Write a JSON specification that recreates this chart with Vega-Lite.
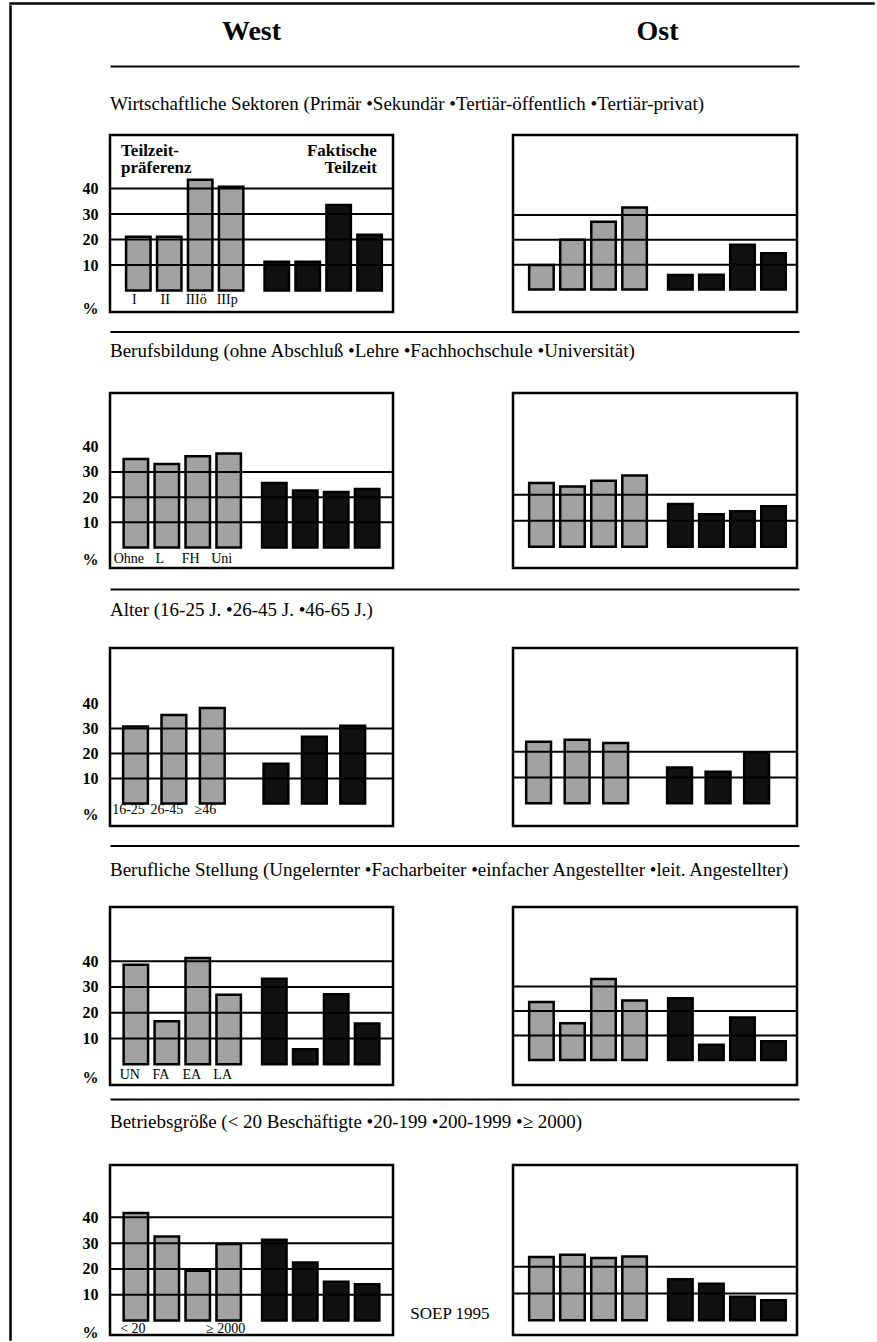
{
  "$schema": "https://vega.github.io/schema/vega-lite/v6.json",
  "background": "white",
  "padding": {"left": 9, "top": 2, "right": 0, "bottom": 0},
  "config": {
    "view": {"stroke": "black", "strokeWidth": 2.5},
    "font": "Liberation Serif",
    "text": {"font": "Liberation Serif", "color": "black"}
  },
  "datasets": {
    "bars": [
      {"p":1,"r":"W","g":"P","c":"a","v":21.1,"l":"I"},
      {"p":1,"r":"W","g":"P","c":"b","v":21.1,"l":"II"},
      {"p":1,"r":"W","g":"P","c":"c","v":43.5,"l":"IIIö"},
      {"p":1,"r":"W","g":"P","c":"d","v":40.7,"l":"IIIp"},
      {"p":1,"r":"W","g":"F","c":"a","v":11.3},
      {"p":1,"r":"W","g":"F","c":"b","v":11.3},
      {"p":1,"r":"W","g":"F","c":"c","v":33.6},
      {"p":1,"r":"W","g":"F","c":"d","v":21.9},
      {"p":1,"r":"O","g":"P","c":"a","v":9.9},
      {"p":1,"r":"O","g":"P","c":"b","v":20},
      {"p":1,"r":"O","g":"P","c":"c","v":27.3},
      {"p":1,"r":"O","g":"P","c":"d","v":33},
      {"p":1,"r":"O","g":"F","c":"a","v":5.9},
      {"p":1,"r":"O","g":"F","c":"b","v":6},
      {"p":1,"r":"O","g":"F","c":"c","v":18},
      {"p":1,"r":"O","g":"F","c":"d","v":14.6},
      {"p":2,"r":"W","g":"P","c":"a","v":35.1,"l":"Ohne"},
      {"p":2,"r":"W","g":"P","c":"b","v":33.1,"l":"L"},
      {"p":2,"r":"W","g":"P","c":"c","v":36.2,"l":"FH"},
      {"p":2,"r":"W","g":"P","c":"d","v":37.3,"l":"Uni"},
      {"p":2,"r":"W","g":"F","c":"a","v":25.6},
      {"p":2,"r":"W","g":"F","c":"b","v":22.6},
      {"p":2,"r":"W","g":"F","c":"c","v":22},
      {"p":2,"r":"W","g":"F","c":"d","v":23.2},
      {"p":2,"r":"O","g":"P","c":"a","v":24.5},
      {"p":2,"r":"O","g":"P","c":"b","v":23.1},
      {"p":2,"r":"O","g":"P","c":"c","v":25.4},
      {"p":2,"r":"O","g":"P","c":"d","v":27.4},
      {"p":2,"r":"O","g":"F","c":"a","v":16.4},
      {"p":2,"r":"O","g":"F","c":"b","v":12.5},
      {"p":2,"r":"O","g":"F","c":"c","v":13.6},
      {"p":2,"r":"O","g":"F","c":"d","v":15.5},
      {"p":3,"r":"W","g":"P","c":"a","v":30.8,"l":"16-25"},
      {"p":3,"r":"W","g":"P","c":"b","v":35.4,"l":"26-45"},
      {"p":3,"r":"W","g":"P","c":"c","v":38.2,"l":"≥46"},
      {"p":3,"r":"W","g":"F","c":"a","v":15.9},
      {"p":3,"r":"W","g":"F","c":"b","v":26.7},
      {"p":3,"r":"W","g":"F","c":"c","v":31.1},
      {"p":3,"r":"O","g":"P","c":"a","v":23.9},
      {"p":3,"r":"O","g":"P","c":"b","v":24.7},
      {"p":3,"r":"O","g":"P","c":"c","v":23.4},
      {"p":3,"r":"O","g":"F","c":"a","v":13.9},
      {"p":3,"r":"O","g":"F","c":"b","v":12.2},
      {"p":3,"r":"O","g":"F","c":"c","v":19.7},
      {"p":4,"r":"W","g":"P","c":"a","v":38.6,"l":"UN"},
      {"p":4,"r":"W","g":"P","c":"b","v":16.7,"l":"FA"},
      {"p":4,"r":"W","g":"P","c":"c","v":41.2,"l":"EA"},
      {"p":4,"r":"W","g":"P","c":"d","v":27,"l":"LA"},
      {"p":4,"r":"W","g":"F","c":"a","v":33.2},
      {"p":4,"r":"W","g":"F","c":"b","v":5.9},
      {"p":4,"r":"W","g":"F","c":"c","v":27.2},
      {"p":4,"r":"W","g":"F","c":"d","v":15.8},
      {"p":4,"r":"O","g":"P","c":"a","v":23.6},
      {"p":4,"r":"O","g":"P","c":"b","v":15},
      {"p":4,"r":"O","g":"P","c":"c","v":33},
      {"p":4,"r":"O","g":"P","c":"d","v":24.2},
      {"p":4,"r":"O","g":"F","c":"a","v":25.2},
      {"p":4,"r":"O","g":"F","c":"b","v":6.2},
      {"p":4,"r":"O","g":"F","c":"c","v":17.3},
      {"p":4,"r":"O","g":"F","c":"d","v":7.6},
      {"p":5,"r":"W","g":"P","c":"a","v":41.7,"l":"< 20"},
      {"p":5,"r":"W","g":"P","c":"b","v":32.6},
      {"p":5,"r":"W","g":"P","c":"c","v":19.3},
      {"p":5,"r":"W","g":"P","c":"d","v":29.7,"l":"≥ 2000"},
      {"p":5,"r":"W","g":"F","c":"a","v":31.3},
      {"p":5,"r":"W","g":"F","c":"b","v":22.5},
      {"p":5,"r":"W","g":"F","c":"c","v":15},
      {"p":5,"r":"W","g":"F","c":"d","v":14.1},
      {"p":5,"r":"O","g":"P","c":"a","v":23.7},
      {"p":5,"r":"O","g":"P","c":"b","v":24.5},
      {"p":5,"r":"O","g":"P","c":"c","v":23.3},
      {"p":5,"r":"O","g":"P","c":"d","v":23.9},
      {"p":5,"r":"O","g":"F","c":"a","v":15.4},
      {"p":5,"r":"O","g":"F","c":"b","v":13.7},
      {"p":5,"r":"O","g":"F","c":"c","v":8.8},
      {"p":5,"r":"O","g":"F","c":"d","v":7.5}
    ],
    "grid": [
      {"p":1,"r":"W","v":10},{"p":1,"r":"W","v":20},{"p":1,"r":"W","v":30},{"p":1,"r":"W","v":40},
      {"p":1,"r":"O","v":10},{"p":1,"r":"O","v":20},{"p":1,"r":"O","v":30},
      {"p":2,"r":"W","v":10},{"p":2,"r":"W","v":20},{"p":2,"r":"W","v":30},
      {"p":2,"r":"O","v":10},{"p":2,"r":"O","v":20},
      {"p":3,"r":"W","v":10},{"p":3,"r":"W","v":20},{"p":3,"r":"W","v":30},
      {"p":3,"r":"O","v":10},{"p":3,"r":"O","v":20},
      {"p":4,"r":"W","v":10},{"p":4,"r":"W","v":20},{"p":4,"r":"W","v":30},{"p":4,"r":"W","v":40},
      {"p":4,"r":"O","v":10},{"p":4,"r":"O","v":20},{"p":4,"r":"O","v":30},
      {"p":5,"r":"W","v":10},{"p":5,"r":"W","v":20},{"p":5,"r":"W","v":30},{"p":5,"r":"W","v":40},
      {"p":5,"r":"O","v":10},{"p":5,"r":"O","v":20}
    ],
    "notes": [
      {"g":"P","t":["Teilzeit-","präferenz"]},
      {"g":"F","t":["Faktische","Teilzeit"]}
    ]
  },
  "spacing": 0,
  "resolve": {"scale": {"x": "independent", "y": "independent", "xOffset": "independent"}},
  "vconcat": [
    {"width": 864, "height": 1, "view": {"stroke": "black", "strokeWidth": 1.5}, "data": {"values": []}, "mark": {"type": "text"}, "encoding": {"text": {"value": ""}}},
    {
      "spacing": 68,
      "resolve": {"scale": {"x": "independent", "y": "independent", "xOffset": "independent"}},
      "hconcat": [
        {"width": 1, "height": 1334, "view": {"stroke": "black", "strokeWidth": 1.5}, "data": {"values": []}, "mark": {"type": "text"}, "encoding": {"text": {"value": ""}}},
        {
          "spacing": 12,
          "resolve": {"scale": {"x": "independent", "y": "independent", "xOffset": "independent"}},
          "vconcat": [
            {
              "width": 689, "height": 45, "view": {"stroke": null},
              "data": {"values": [{"r": "West"}, {"r": "Ost"}]},
              "mark": {"type": "text", "fontSize": 28, "fontWeight": "bold", "baseline": "middle", "dy": 3},
              "encoding": {
                "x": {"field": "r", "type": "nominal", "sort": ["West", "Ost"], "scale": {"type": "band", "paddingInner": 0.303, "paddingOuter": 0}, "axis": null},
                "y": {"datum": 0, "type": "quantitative", "scale": {"domain": [-1, 1]}, "axis": {"orient": "left", "values": [0], "ticks": true, "tickSize": 28, "tickColor": "white", "labels": false, "domain": false, "grid": false, "title": null}},
                "text": {"field": "r"}
              }
            },
            {
              "width": 689, "height": 58, "view": {"stroke": null},
              "data": {"values": [{"t": "Wirtschaftliche Sektoren (Primär •Sekundär •Tertiär-öffentlich •Tertiär-privat)"}]},
              "mark": {"type": "text", "align": "left", "baseline": "middle", "fontSize": 19, "dy": 12},
              "encoding": {
                "text": {"field": "t"},
                "x": {"datum": 0, "type": "quantitative", "scale": {"domain": [0, 1]}, "axis": {"orient": "top", "offset": -3, "domain": true, "domainColor": "black", "domainWidth": 2, "ticks": false, "labels": false, "grid": false, "title": null}},
                "y": {"datum": 0, "type": "quantitative", "scale": {"domain": [-1, 1]}, "axis": {"orient": "left", "values": [0], "ticks": true, "tickSize": 28, "tickColor": "white", "labels": false, "domain": false, "grid": false, "title": null}}
              }
            },
            {
              "spacing": 120, "bounds": "flush",
              "resolve": {"scale": {"x": "independent", "y": "independent", "xOffset": "independent"}},
              "hconcat": [
                {
                  "width": 283, "height": 177,
                  "layer": [
                    {"data": {"name": "bars"}, "transform": [{"filter": "datum.p == 1 && datum.r == 'W'"}],
                     "mark": {"type": "bar", "stroke": "black", "strokeWidth": 2.5},
                     "encoding": {
                       "x": {"field": "g", "type": "nominal", "sort": ["P", "F"], "scale": {"type": "band", "paddingInner": 0.153, "paddingOuter": 0.0985, "align": 0.59}, "axis": null},
                       "xOffset": {"field": "c", "type": "nominal", "sort": ["a", "b", "c", "d"], "scale": {"type": "band", "paddingInner": 0.21, "paddingOuter": 0}},
                       "y": {"field": "v", "type": "quantitative", "scale": {"domain": [-8.4, 61], "nice": false}, "axis": {"values": [-7.1, 10, 20, 30, 40], "labelExpr": "datum.value < 0 ? '%' : datum.label", "ticks": false, "domain": false, "grid": false, "title": null, "labelFont": "Liberation Serif", "labelFontSize": 16, "labelFontWeight": "bold", "labelColor": "black", "labelPadding": 12, "labelFlush": false, "labelOverlap": false}},
                       "y2": {"datum": 0},
                       "fill": {"field": "g", "type": "nominal", "scale": {"domain": ["P", "F"], "range": ["#a2a2a2", "#111111"]}, "legend": null}
                     }},
                    {"data": {"name": "grid"}, "transform": [{"filter": "datum.p == 1 && datum.r == 'W'"}],
                     "mark": {"type": "rule", "color": "black", "strokeWidth": 2},
                     "encoding": {"y": {"field": "v", "type": "quantitative"}}},
                    {"data": {"name": "bars"}, "transform": [{"filter": "datum.p == 1 && datum.r == 'W' && isValid(datum.l)"}],
                     "mark": {"type": "text", "fontSize": 14, "baseline": "middle", "dx": -4},
                     "encoding": {
                       "x": {"field": "g", "type": "nominal", "sort": ["P", "F"], "scale": {"type": "band", "paddingInner": 0.153, "paddingOuter": 0.0985, "align": 0.59}},
                       "xOffset": {"field": "c", "type": "nominal", "sort": ["a", "b", "c", "d"], "scale": {"type": "band", "paddingInner": 0.21, "paddingOuter": 0}},
                       "y": {"datum": -3.7},
                       "text": {"field": "l"}
                     }},
                    {"data": {"name": "notes"}, "transform": [{"filter": "datum.g == 'P'"}],
                     "mark": {"type": "text", "fontSize": 17, "fontWeight": "bold", "align": "left", "baseline": "top", "lineHeight": 17, "dx": -5},
                     "encoding": {
                       "x": {"field": "g", "type": "nominal", "sort": ["P", "F"], "bandPosition": 0, "scale": {"type": "band", "paddingInner": 0.153, "paddingOuter": 0.0985, "align": 0.59}},
                       "y": {"datum": 58},
                       "text": {"field": "t"}
                     }},
                    {"data": {"name": "notes"}, "transform": [{"filter": "datum.g == 'F'"}],
                     "mark": {"type": "text", "fontSize": 17, "fontWeight": "bold", "align": "right", "baseline": "top", "lineHeight": 17, "dx": -5},
                     "encoding": {
                       "x": {"field": "g", "type": "nominal", "sort": ["P", "F"], "bandPosition": 1, "scale": {"type": "band", "paddingInner": 0.153, "paddingOuter": 0.0985, "align": 0.59}},
                       "y": {"datum": 58},
                       "text": {"field": "t"}
                     }}
                  ]
                },
                {
                  "width": 284, "height": 177,
                  "layer": [
                    {"data": {"name": "bars"}, "transform": [{"filter": "datum.p == 1 && datum.r == 'O'"}],
                     "mark": {"type": "bar", "stroke": "black", "strokeWidth": 2.5},
                     "encoding": {
                       "x": {"field": "g", "type": "nominal", "sort": ["P", "F"], "scale": {"type": "band", "paddingInner": 0.153, "paddingOuter": 0.0985, "align": 0.59}, "axis": null},
                       "xOffset": {"field": "c", "type": "nominal", "sort": ["a", "b", "c", "d"], "scale": {"type": "band", "paddingInner": 0.21, "paddingOuter": 0}},
                       "y": {"field": "v", "type": "quantitative", "scale": {"domain": [-9.0, 62.1], "nice": false}, "axis": {"labels": false, "ticks": false, "domain": false, "grid": false, "title": null}},
                       "y2": {"datum": 0},
                       "fill": {"field": "g", "type": "nominal", "scale": {"domain": ["P", "F"], "range": ["#a2a2a2", "#111111"]}, "legend": null}
                     }},
                    {"data": {"name": "grid"}, "transform": [{"filter": "datum.p == 1 && datum.r == 'O'"}],
                     "mark": {"type": "rule", "color": "black", "strokeWidth": 2},
                     "encoding": {"y": {"field": "v", "type": "quantitative"}}}
                  ]
                }
              ]
            },
            {
              "width": 689, "height": 49, "view": {"stroke": null},
              "data": {"values": [{"t": "Berufsbildung (ohne Abschluß •Lehre •Fachhochschule •Universität)"}]},
              "mark": {"type": "text", "align": "left", "baseline": "middle", "fontSize": 19, "dy": -4},
              "encoding": {
                "text": {"field": "t"},
                "x": {"datum": 0, "type": "quantitative", "scale": {"domain": [0, 1]}, "axis": {"orient": "top", "offset": -1.5, "domain": true, "domainColor": "black", "domainWidth": 2, "ticks": false, "labels": false, "grid": false, "title": null}},
                "y": {"datum": 0, "type": "quantitative", "scale": {"domain": [-1, 1]}, "axis": {"orient": "left", "values": [0], "ticks": true, "tickSize": 28, "tickColor": "white", "labels": false, "domain": false, "grid": false, "title": null}}
              }
            },
            {
              "spacing": 120, "bounds": "flush",
              "resolve": {"scale": {"x": "independent", "y": "independent", "xOffset": "independent"}},
              "hconcat": [
                {
                  "width": 283, "height": 175,
                  "layer": [
                    {"data": {"name": "bars"}, "transform": [{"filter": "datum.p == 2 && datum.r == 'W'"}],
                     "mark": {"type": "bar", "stroke": "black", "strokeWidth": 2.5},
                     "encoding": {
                       "x": {"field": "g", "type": "nominal", "sort": ["P", "F"], "scale": {"type": "band", "paddingInner": 0.153, "paddingOuter": 0.0985, "align": 0.5}, "axis": null},
                       "xOffset": {"field": "c", "type": "nominal", "sort": ["a", "b", "c", "d"], "scale": {"type": "band", "paddingInner": 0.21, "paddingOuter": 0}},
                       "y": {"field": "v", "type": "quantitative", "scale": {"domain": [-8.1, 61.3], "nice": false}, "axis": {"values": [-4.6, 10, 20, 30, 40], "labelExpr": "datum.value < 0 ? '%' : datum.label", "ticks": false, "domain": false, "grid": false, "title": null, "labelFont": "Liberation Serif", "labelFontSize": 16, "labelFontWeight": "bold", "labelColor": "black", "labelPadding": 12, "labelFlush": false, "labelOverlap": false}},
                       "y2": {"datum": 0},
                       "fill": {"field": "g", "type": "nominal", "scale": {"domain": ["P", "F"], "range": ["#a2a2a2", "#111111"]}, "legend": null}
                     }},
                    {"data": {"name": "grid"}, "transform": [{"filter": "datum.p == 2 && datum.r == 'W'"}],
                     "mark": {"type": "rule", "color": "black", "strokeWidth": 2},
                     "encoding": {"y": {"field": "v", "type": "quantitative"}}},
                    {"data": {"name": "bars"}, "transform": [{"filter": "datum.p == 2 && datum.r == 'W' && isValid(datum.l)"}],
                     "mark": {"type": "text", "fontSize": 14, "baseline": "middle", "dx": -7},
                     "encoding": {
                       "x": {"field": "g", "type": "nominal", "sort": ["P", "F"], "scale": {"type": "band", "paddingInner": 0.153, "paddingOuter": 0.0985, "align": 0.5}},
                       "xOffset": {"field": "c", "type": "nominal", "sort": ["a", "b", "c", "d"], "scale": {"type": "band", "paddingInner": 0.21, "paddingOuter": 0}},
                       "y": {"datum": -4.5},
                       "text": {"field": "l"}
                     }}
                  ]
                },
                {
                  "width": 284, "height": 175,
                  "layer": [
                    {"data": {"name": "bars"}, "transform": [{"filter": "datum.p == 2 && datum.r == 'O'"}],
                     "mark": {"type": "bar", "stroke": "black", "strokeWidth": 2.5},
                     "encoding": {
                       "x": {"field": "g", "type": "nominal", "sort": ["P", "F"], "scale": {"type": "band", "paddingInner": 0.153, "paddingOuter": 0.0985, "align": 0.59}, "axis": null},
                       "xOffset": {"field": "c", "type": "nominal", "sort": ["a", "b", "c", "d"], "scale": {"type": "band", "paddingInner": 0.21, "paddingOuter": 0}},
                       "y": {"field": "v", "type": "quantitative", "scale": {"domain": [-8.2, 59.1], "nice": false}, "axis": {"labels": false, "ticks": false, "domain": false, "grid": false, "title": null}},
                       "y2": {"datum": 0},
                       "fill": {"field": "g", "type": "nominal", "scale": {"domain": ["P", "F"], "range": ["#a2a2a2", "#111111"]}, "legend": null}
                     }},
                    {"data": {"name": "grid"}, "transform": [{"filter": "datum.p == 2 && datum.r == 'O'"}],
                     "mark": {"type": "rule", "color": "black", "strokeWidth": 2},
                     "encoding": {"y": {"field": "v", "type": "quantitative"}}}
                  ]
                }
              ]
            },
            {
              "width": 689, "height": 52, "view": {"stroke": null},
              "data": {"values": [{"t": "Alter (16-25 J. •26-45 J. •46-65 J.)"}]},
              "mark": {"type": "text", "align": "left", "baseline": "middle", "fontSize": 19, "dy": 2},
              "encoding": {
                "text": {"field": "t"},
                "x": {"datum": 0, "type": "quantitative", "scale": {"domain": [0, 1]}, "axis": {"orient": "top", "offset": -7, "domain": true, "domainColor": "black", "domainWidth": 2, "ticks": false, "labels": false, "grid": false, "title": null}},
                "y": {"datum": 0, "type": "quantitative", "scale": {"domain": [-1, 1]}, "axis": {"orient": "left", "values": [0], "ticks": true, "tickSize": 28, "tickColor": "white", "labels": false, "domain": false, "grid": false, "title": null}}
              }
            },
            {
              "spacing": 120, "bounds": "flush",
              "resolve": {"scale": {"x": "independent", "y": "independent", "xOffset": "independent"}},
              "hconcat": [
                {
                  "width": 283, "height": 178,
                  "layer": [
                    {"data": {"name": "bars"}, "transform": [{"filter": "datum.p == 3 && datum.r == 'W'"}],
                     "mark": {"type": "bar", "stroke": "black", "strokeWidth": 2.5},
                     "encoding": {
                       "x": {"field": "g", "type": "nominal", "sort": ["P", "F"], "scale": {"type": "band", "paddingInner": 0.277, "paddingOuter": 0.146, "align": 0.32}, "axis": null},
                       "xOffset": {"field": "c", "type": "nominal", "sort": ["a", "b", "c"], "scale": {"type": "band", "paddingInner": 0.355, "paddingOuter": 0}},
                       "y": {"field": "v", "type": "quantitative", "scale": {"domain": [-9.0, 62.2], "nice": false}, "axis": {"values": [-4.2, 10, 20, 30, 40], "labelExpr": "datum.value < 0 ? '%' : datum.label", "ticks": false, "domain": false, "grid": false, "title": null, "labelFont": "Liberation Serif", "labelFontSize": 16, "labelFontWeight": "bold", "labelColor": "black", "labelPadding": 12, "labelFlush": false, "labelOverlap": false}},
                       "y2": {"datum": 0},
                       "fill": {"field": "g", "type": "nominal", "scale": {"domain": ["P", "F"], "range": ["#a2a2a2", "#111111"]}, "legend": null}
                     }},
                    {"data": {"name": "grid"}, "transform": [{"filter": "datum.p == 3 && datum.r == 'W'"}],
                     "mark": {"type": "rule", "color": "black", "strokeWidth": 2},
                     "encoding": {"y": {"field": "v", "type": "quantitative"}}},
                    {"data": {"name": "bars"}, "transform": [{"filter": "datum.p == 3 && datum.r == 'W' && isValid(datum.l)"}],
                     "mark": {"type": "text", "fontSize": 14, "baseline": "middle", "dx": -7},
                     "encoding": {
                       "x": {"field": "g", "type": "nominal", "sort": ["P", "F"], "scale": {"type": "band", "paddingInner": 0.277, "paddingOuter": 0.146, "align": 0.32}},
                       "xOffset": {"field": "c", "type": "nominal", "sort": ["a", "b", "c"], "scale": {"type": "band", "paddingInner": 0.355, "paddingOuter": 0}},
                       "y": {"datum": -2.6},
                       "text": {"field": "l"}
                     }}
                  ]
                },
                {
                  "width": 284, "height": 178,
                  "layer": [
                    {"data": {"name": "bars"}, "transform": [{"filter": "datum.p == 3 && datum.r == 'O'"}],
                     "mark": {"type": "bar", "stroke": "black", "strokeWidth": 2.5},
                     "encoding": {
                       "x": {"field": "g", "type": "nominal", "sort": ["P", "F"], "scale": {"type": "band", "paddingInner": 0.277, "paddingOuter": 0.146, "align": 0.32}, "axis": null},
                       "xOffset": {"field": "c", "type": "nominal", "sort": ["a", "b", "c"], "scale": {"type": "band", "paddingInner": 0.355, "paddingOuter": 0}},
                       "y": {"field": "v", "type": "quantitative", "scale": {"domain": [-8.9, 60.4], "nice": false}, "axis": {"labels": false, "ticks": false, "domain": false, "grid": false, "title": null}},
                       "y2": {"datum": 0},
                       "fill": {"field": "g", "type": "nominal", "scale": {"domain": ["P", "F"], "range": ["#a2a2a2", "#111111"]}, "legend": null}
                     }},
                    {"data": {"name": "grid"}, "transform": [{"filter": "datum.p == 3 && datum.r == 'O'"}],
                     "mark": {"type": "rule", "color": "black", "strokeWidth": 2},
                     "encoding": {"y": {"field": "v", "type": "quantitative"}}}
                  ]
                }
              ]
            },
            {
              "width": 689, "height": 53, "view": {"stroke": null},
              "data": {"values": [{"t": "Berufliche Stellung (Ungelernter •Facharbeiter •einfacher Angestellter •leit. Angestellter)"}]},
              "mark": {"type": "text", "align": "left", "baseline": "middle", "fontSize": 19, "dy": 3},
              "encoding": {
                "text": {"field": "t"},
                "x": {"datum": 0, "type": "quantitative", "scale": {"domain": [0, 1]}, "axis": {"orient": "top", "offset": -5.5, "domain": true, "domainColor": "black", "domainWidth": 2, "ticks": false, "labels": false, "grid": false, "title": null}},
                "y": {"datum": 0, "type": "quantitative", "scale": {"domain": [-1, 1]}, "axis": {"orient": "left", "values": [0], "ticks": true, "tickSize": 28, "tickColor": "white", "labels": false, "domain": false, "grid": false, "title": null}}
              }
            },
            {
              "spacing": 120, "bounds": "flush",
              "resolve": {"scale": {"x": "independent", "y": "independent", "xOffset": "independent"}},
              "hconcat": [
                {
                  "width": 283, "height": 178,
                  "layer": [
                    {"data": {"name": "bars"}, "transform": [{"filter": "datum.p == 4 && datum.r == 'W'"}],
                     "mark": {"type": "bar", "stroke": "black", "strokeWidth": 2.5},
                     "encoding": {
                       "x": {"field": "g", "type": "nominal", "sort": ["P", "F"], "scale": {"type": "band", "paddingInner": 0.153, "paddingOuter": 0.0985, "align": 0.5}, "axis": null},
                       "xOffset": {"field": "c", "type": "nominal", "sort": ["a", "b", "c", "d"], "scale": {"type": "band", "paddingInner": 0.21, "paddingOuter": 0}},
                       "y": {"field": "v", "type": "quantitative", "scale": {"domain": [-8.0, 61], "nice": false}, "axis": {"values": [-4.9, 10, 20, 30, 40], "labelExpr": "datum.value < 0 ? '%' : datum.label", "ticks": false, "domain": false, "grid": false, "title": null, "labelFont": "Liberation Serif", "labelFontSize": 16, "labelFontWeight": "bold", "labelColor": "black", "labelPadding": 12, "labelFlush": false, "labelOverlap": false}},
                       "y2": {"datum": 0},
                       "fill": {"field": "g", "type": "nominal", "scale": {"domain": ["P", "F"], "range": ["#a2a2a2", "#111111"]}, "legend": null}
                     }},
                    {"data": {"name": "grid"}, "transform": [{"filter": "datum.p == 4 && datum.r == 'W'"}],
                     "mark": {"type": "rule", "color": "black", "strokeWidth": 2},
                     "encoding": {"y": {"field": "v", "type": "quantitative"}}},
                    {"data": {"name": "bars"}, "transform": [{"filter": "datum.p == 4 && datum.r == 'W' && isValid(datum.l)"}],
                     "mark": {"type": "text", "fontSize": 14, "baseline": "middle", "dx": -6},
                     "encoding": {
                       "x": {"field": "g", "type": "nominal", "sort": ["P", "F"], "scale": {"type": "band", "paddingInner": 0.153, "paddingOuter": 0.0985, "align": 0.5}},
                       "xOffset": {"field": "c", "type": "nominal", "sort": ["a", "b", "c", "d"], "scale": {"type": "band", "paddingInner": 0.21, "paddingOuter": 0}},
                       "y": {"datum": -4},
                       "text": {"field": "l"}
                     }}
                  ]
                },
                {
                  "width": 284, "height": 178,
                  "layer": [
                    {"data": {"name": "bars"}, "transform": [{"filter": "datum.p == 4 && datum.r == 'O'"}],
                     "mark": {"type": "bar", "stroke": "black", "strokeWidth": 2.5},
                     "encoding": {
                       "x": {"field": "g", "type": "nominal", "sort": ["P", "F"], "scale": {"type": "band", "paddingInner": 0.153, "paddingOuter": 0.0985, "align": 0.59}, "axis": null},
                       "xOffset": {"field": "c", "type": "nominal", "sort": ["a", "b", "c", "d"], "scale": {"type": "band", "paddingInner": 0.21, "paddingOuter": 0}},
                       "y": {"field": "v", "type": "quantitative", "scale": {"domain": [-10.25, 62.4], "nice": false}, "axis": {"labels": false, "ticks": false, "domain": false, "grid": false, "title": null}},
                       "y2": {"datum": 0},
                       "fill": {"field": "g", "type": "nominal", "scale": {"domain": ["P", "F"], "range": ["#a2a2a2", "#111111"]}, "legend": null}
                     }},
                    {"data": {"name": "grid"}, "transform": [{"filter": "datum.p == 4 && datum.r == 'O'"}],
                     "mark": {"type": "rule", "color": "black", "strokeWidth": 2},
                     "encoding": {"y": {"field": "v", "type": "quantitative"}}}
                  ]
                }
              ]
            },
            {
              "width": 689, "height": 52, "view": {"stroke": null},
              "data": {"values": [{"t": "Betriebsgröße (< 20 Beschäftigte •20-199 •200-1999 •≥ 2000)"}]},
              "mark": {"type": "text", "align": "left", "baseline": "middle", "fontSize": 19, "dy": -3},
              "encoding": {
                "text": {"field": "t"},
                "x": {"datum": 0, "type": "quantitative", "scale": {"domain": [0, 1]}, "axis": {"orient": "top", "offset": 0, "domain": true, "domainColor": "black", "domainWidth": 2, "ticks": false, "labels": false, "grid": false, "title": null}},
                "y": {"datum": 0, "type": "quantitative", "scale": {"domain": [-1, 1]}, "axis": {"orient": "left", "values": [0], "ticks": true, "tickSize": 28, "tickColor": "white", "labels": false, "domain": false, "grid": false, "title": null}}
              }
            },
            {
              "spacing": 120, "bounds": "flush",
              "resolve": {"scale": {"x": "independent", "y": "independent", "xOffset": "independent"}},
              "hconcat": [
                {
                  "width": 283, "height": 170,
                  "layer": [
                    {"data": {"name": "bars"}, "transform": [{"filter": "datum.p == 5 && datum.r == 'W'"}],
                     "mark": {"type": "bar", "stroke": "black", "strokeWidth": 2.5},
                     "encoding": {
                       "x": {"field": "g", "type": "nominal", "sort": ["P", "F"], "scale": {"type": "band", "paddingInner": 0.153, "paddingOuter": 0.0985, "align": 0.5}, "axis": null},
                       "xOffset": {"field": "c", "type": "nominal", "sort": ["a", "b", "c", "d"], "scale": {"type": "band", "paddingInner": 0.21, "paddingOuter": 0}},
                       "y": {"field": "v", "type": "quantitative", "scale": {"domain": [-5.6, 60.3], "nice": false}, "axis": {"values": [-4.5, 10, 20, 30, 40], "labelExpr": "datum.value < 0 ? '%' : datum.label", "ticks": false, "domain": false, "grid": false, "title": null, "labelFont": "Liberation Serif", "labelFontSize": 16, "labelFontWeight": "bold", "labelColor": "black", "labelPadding": 12, "labelFlush": false, "labelOverlap": false}},
                       "y2": {"datum": 0},
                       "fill": {"field": "g", "type": "nominal", "scale": {"domain": ["P", "F"], "range": ["#a2a2a2", "#111111"]}, "legend": null}
                     }},
                    {"data": {"name": "grid"}, "transform": [{"filter": "datum.p == 5 && datum.r == 'W'"}],
                     "mark": {"type": "rule", "color": "black", "strokeWidth": 2},
                     "encoding": {"y": {"field": "v", "type": "quantitative"}}},
                    {"data": {"name": "bars"}, "transform": [{"filter": "datum.p == 5 && datum.r == 'W' && isValid(datum.l)"}],
                     "mark": {"type": "text", "fontSize": 14, "baseline": "middle", "dx": -3},
                     "encoding": {
                       "x": {"field": "g", "type": "nominal", "sort": ["P", "F"], "scale": {"type": "band", "paddingInner": 0.153, "paddingOuter": 0.0985, "align": 0.5}},
                       "xOffset": {"field": "c", "type": "nominal", "sort": ["a", "b", "c", "d"], "scale": {"type": "band", "paddingInner": 0.21, "paddingOuter": 0}},
                       "y": {"datum": -3.2},
                       "text": {"field": "l"}
                     }}
                  ]
                },
                {
                  "width": 284, "height": 170,
                  "layer": [
                    {"data": {"name": "bars"}, "transform": [{"filter": "datum.p == 5 && datum.r == 'O'"}],
                     "mark": {"type": "bar", "stroke": "black", "strokeWidth": 2.5},
                     "encoding": {
                       "x": {"field": "g", "type": "nominal", "sort": ["P", "F"], "scale": {"type": "band", "paddingInner": 0.153, "paddingOuter": 0.0985, "align": 0.59}, "axis": null},
                       "xOffset": {"field": "c", "type": "nominal", "sort": ["a", "b", "c", "d"], "scale": {"type": "band", "paddingInner": 0.21, "paddingOuter": 0}},
                       "y": {"field": "v", "type": "quantitative", "scale": {"domain": [-5.5, 58.1], "nice": false}, "axis": {"title": "SOEP 1995", "titleAngle": 0, "titleAlign": "right", "titleBaseline": "middle", "titleX": -24, "titleY": 148, "titleFont": "Liberation Serif", "titleFontSize": 17, "titleFontWeight": "normal", "titleColor": "black", "labels": false, "ticks": false, "domain": false, "grid": false}},
                       "y2": {"datum": 0},
                       "fill": {"field": "g", "type": "nominal", "scale": {"domain": ["P", "F"], "range": ["#a2a2a2", "#111111"]}, "legend": null}
                     }},
                    {"data": {"name": "grid"}, "transform": [{"filter": "datum.p == 5 && datum.r == 'O'"}],
                     "mark": {"type": "rule", "color": "black", "strokeWidth": 2},
                     "encoding": {"y": {"field": "v", "type": "quantitative"}}}
                  ]
                }
              ]
            }
          ]
        }
      ]
    }
  ]
}
